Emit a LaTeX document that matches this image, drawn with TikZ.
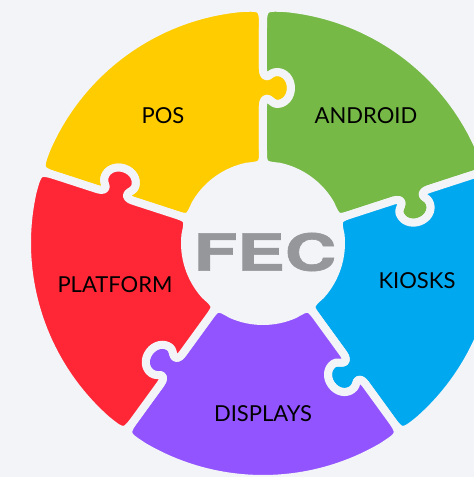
\documentclass[tikz,border=0pt]{standalone}
\usepackage{fontspec}
\setmainfont{Lato}
\newfontfamily\logofont[BoldFont={TeX Gyre Heros Bold},BoldFeatures={FakeBold=1.2}]{TeX Gyre Heros}
\definecolor{bgcol}{HTML}{F2F4F7}
\definecolor{poscol}{HTML}{FFCC00}
\definecolor{androidcol}{HTML}{76B947}
\definecolor{kioskcol}{HTML}{00A8F0}
\definecolor{displaycol}{HTML}{9254FF}
\definecolor{platformcol}{HTML}{FF2636}
\definecolor{logocol}{HTML}{96979B}
\tikzset{
	piece/.style={draw=bgcol, line width=8pt, line join=round},
	lbl/.style={inner sep=0pt, font=\fontsize{22}{24}\selectfont, text=black},
}
% one segment of the ring, turned by #2
\newcommand{\ringpiece}[2]{
	\begin{scope}[rotate=#2]
		\path[piece, fill=#1] (156.5:236) arc[start angle=156.5, end angle=95.5, radius=236]
			.. controls (90:236) .. (0,214) -- (0,174)
			.. controls (0,169) and (2,166) .. (5,167)
			.. controls (8,169) and (10,171) .. (14,171)
			.. controls (22,171) and (28,164) .. (28,155)
			.. controls (28,146) and (22,139) .. (14,139)
			.. controls (10,139) and (8,143) .. (5,144)
			.. controls (2,145) and (0,142) .. (0,137) -- (0,94)
			.. controls (90:78) .. (102:78) arc[start angle=102, end angle=150, radius=78]
			.. controls (162:78) .. ([rotate=72]0,94) -- ([rotate=72]0,137)
			.. controls ([rotate=72]0,142) and ([rotate=72]2,145) .. ([rotate=72]5,144)
			.. controls ([rotate=72]8,143) and ([rotate=72]10,139) .. ([rotate=72]14,139)
			.. controls ([rotate=72]22,139) and ([rotate=72]28,146) .. ([rotate=72]28,155)
			.. controls ([rotate=72]28,164) and ([rotate=72]22,171) .. ([rotate=72]14,171)
			.. controls ([rotate=72]10,171) and ([rotate=72]8,169) .. ([rotate=72]5,167)
			.. controls ([rotate=72]2,166) and ([rotate=72]0,169) .. ([rotate=72]0,174)
			-- ([rotate=72]0,214) .. controls (162:236) .. cycle;
	\end{scope}
}
\begin{document}
\begin{tikzpicture}[x=1pt,y=1pt]
	\useasboundingbox (-263,-234) rectangle (211,243);
	\clip (-263,-234) rectangle (211,243);
	\fill[bgcol] (-263,-234) rectangle (211,243);
	
	\ringpiece{poscol}{0}
	\ringpiece{androidcol}{-72}
	\ringpiece{kioskcol}{-144}
	\ringpiece{displaycol}{-216}
	\ringpiece{platformcol}{-288}
	
	\node[lbl] (pos) at (-100,127) {POS};
	\node[lbl] (android) at (103,127) {ANDROID};
	\node[lbl] (kiosks) at (154,-38) {KIOSKS};
	\node[lbl] (displays) at (0,-171) {DISPLAYS};
	\node[lbl] (platform) at (-148,-42) {PLATFORM};
	\node[inner sep=0pt, text=logocol, xscale=1.4, font=\logofont\bfseries\fontsize{51}{51}\selectfont] (logo) at (2,-9) {FEC};
\end{tikzpicture}
\end{document}
